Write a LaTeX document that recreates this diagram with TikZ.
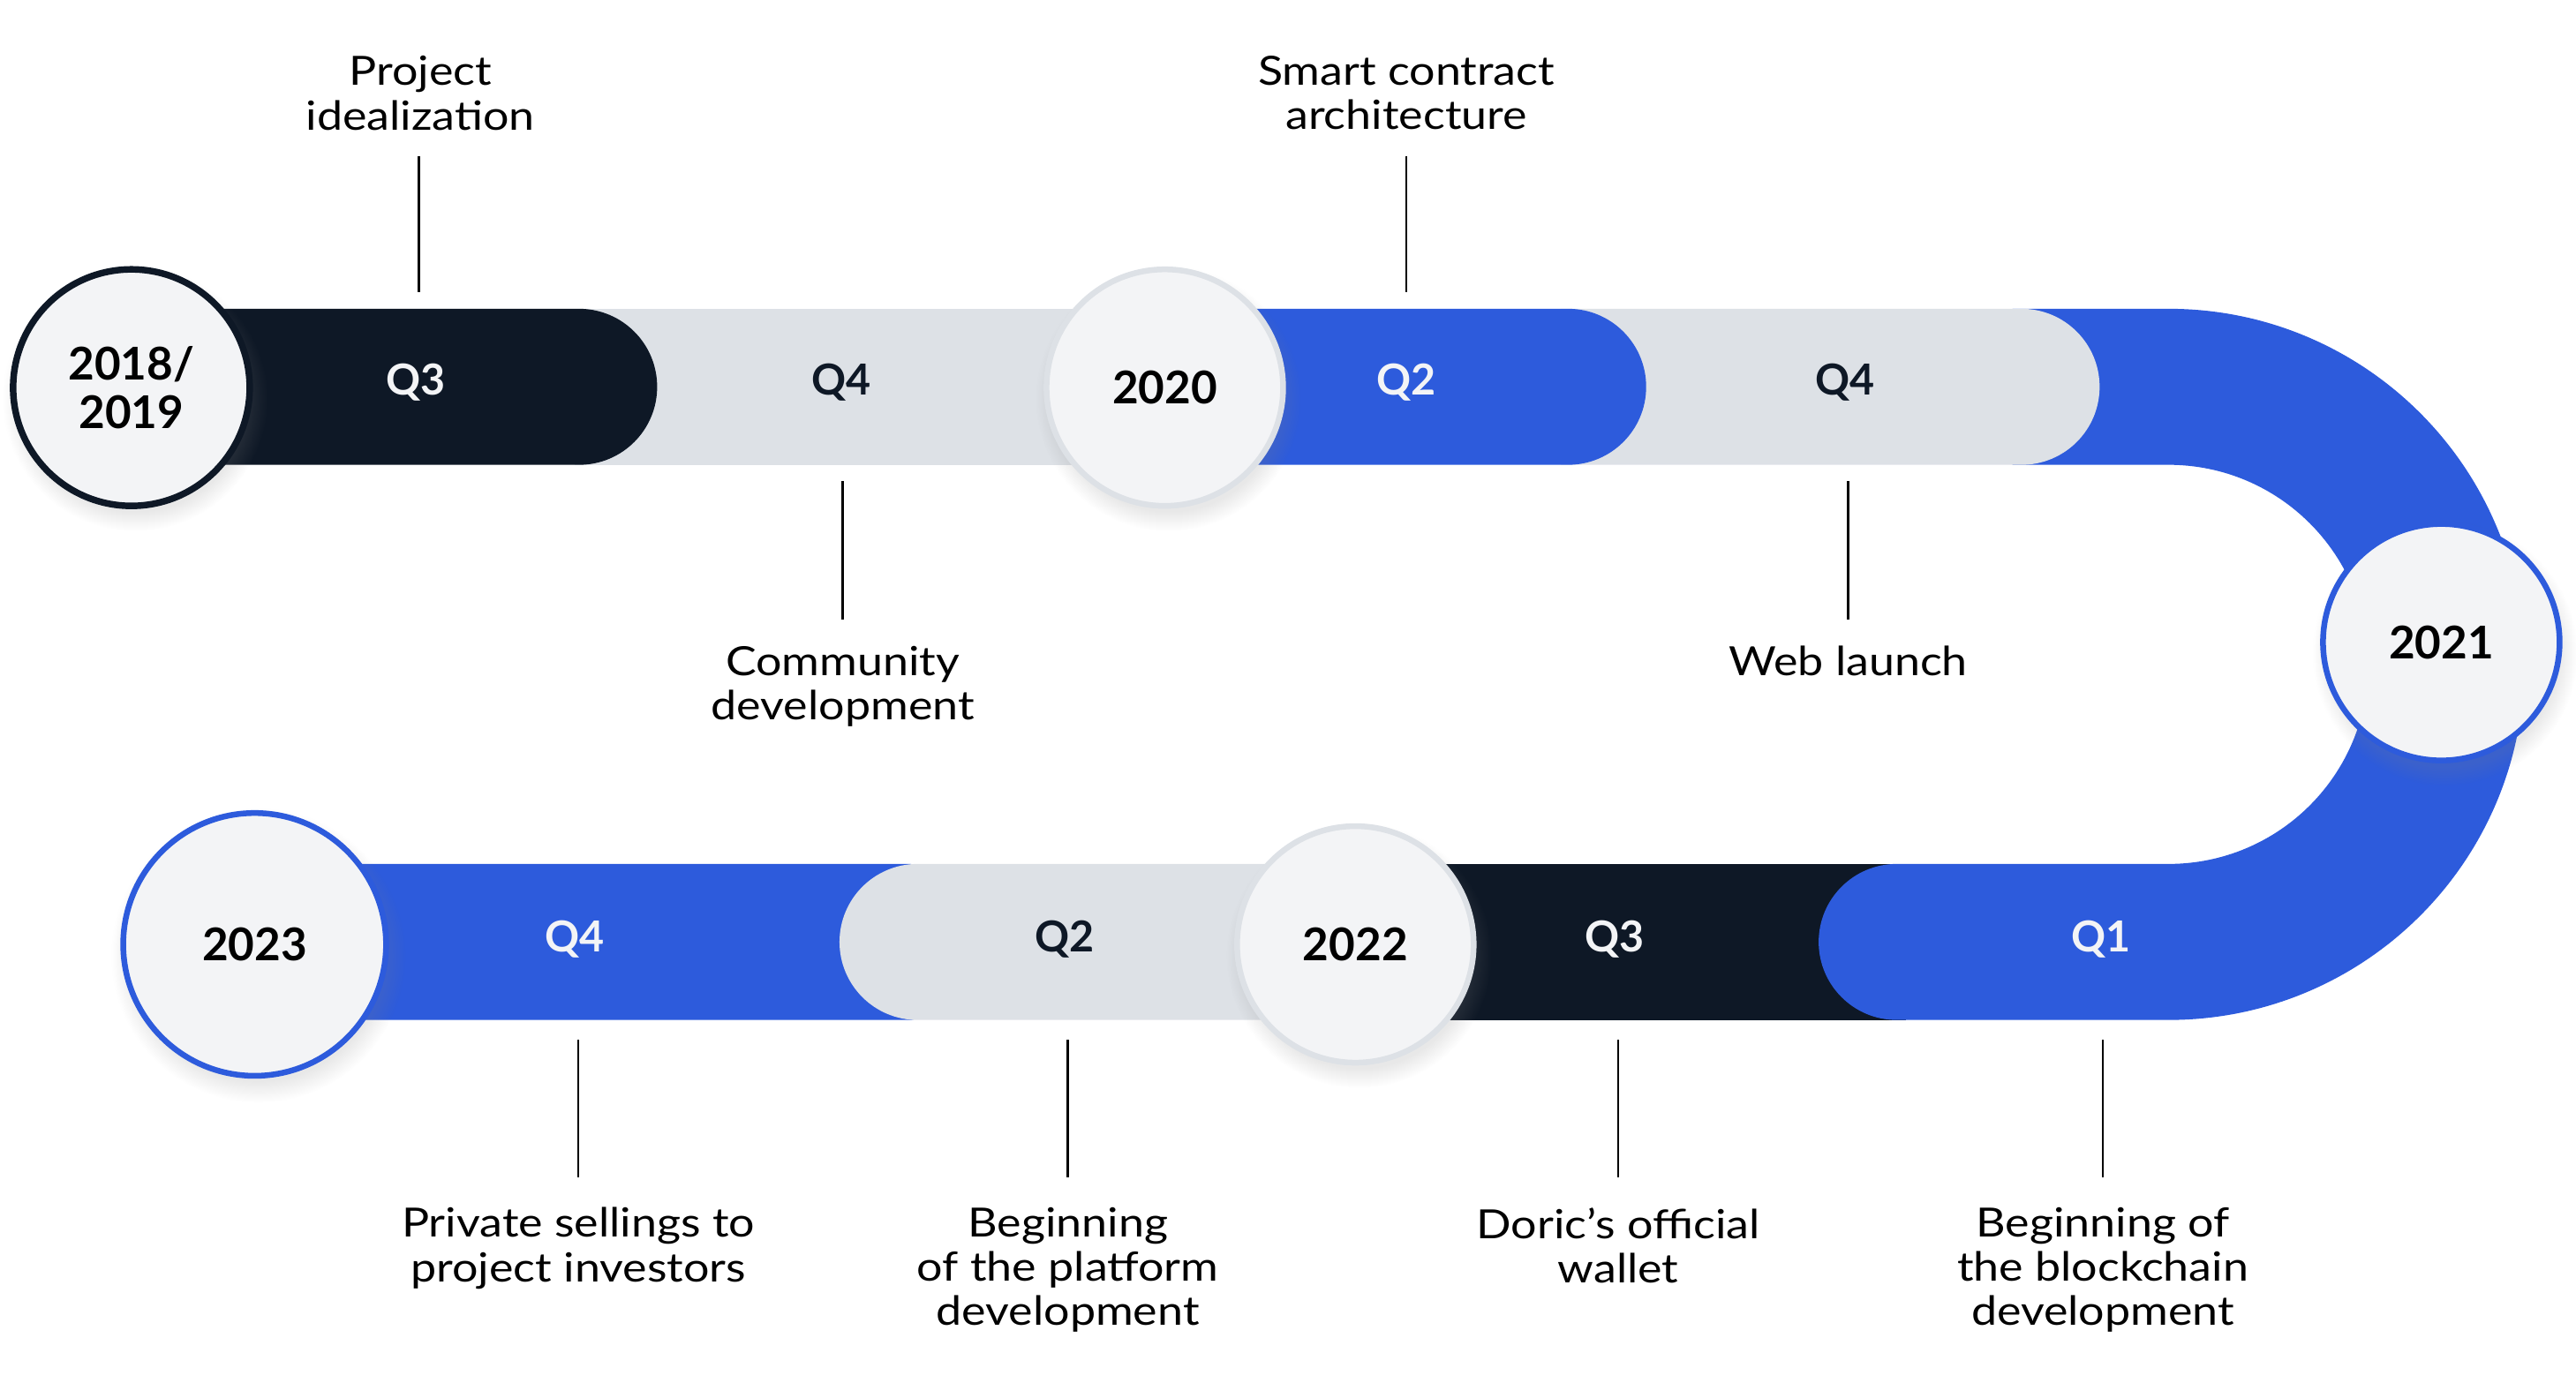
\documentclass[tikz,border=0pt]{standalone}
\usepackage{fontspec}
\setmainfont{Lato}
\newfontfamily\captionfont{Lato}[FakeStretch=1.14]
\usetikzlibrary{positioning, shadows}

\definecolor{brandblue}{HTML}{2D5BDC}
\definecolor{inkdark}{HTML}{0E1826}
\definecolor{trackgray}{HTML}{DDE1E6}
\definecolor{badgefill}{HTML}{F3F4F6}

\begin{document}
\begin{tikzpicture}[
    x=1pt, y=1pt,
    % Year badges sitting on the track
    yearbadge/.style={
        circle, fill=badgefill, minimum size=144pt, inner sep=0pt,
        line width=3.5pt, align=center, text=black,
        font=\fontsize{27.5}{30}\selectfont\bfseries,
        circular drop shadow={shadow xshift=2pt, shadow yshift=-6pt,
            shadow scale=1.12, opacity=0.18}
    },
    % Quarter labels on the track
    quarter/.style={font=\fontsize{26}{28}\selectfont\bfseries, text=badgefill},
    quarterdark/.style={quarter, text=inkdark},
    % Milestone captions and their ticks
    caption/.style={align=center, anchor=north, inner sep=0pt,
        font=\captionfont\fontsize{24.5}{27}\selectfont, text=black},
    tick/.style={line width=1.4pt, black},
]

\useasboundingbox (0,0) rectangle (1568,-851);

% ============================================================
% TRACK: drawn from the latest segment back to the earliest,
%   so each earlier rounded end lies on top of the next one
% ============================================================

% --- Bottom row (y = -573.5) ---
\fill[brandblue, rounded corners=8pt] (200,-526) rectangle (562,-621);
\fill[trackgray] (825,-526) -- (558.5,-526)
    arc[start angle=90, end angle=270, radius=47.5] -- (825,-621) -- cycle;
\fill[inkdark] (825,-526) rectangle (1160,-621);

% Q1 + U-turn + start of top blue run (one piece)
\fill[brandblue] (1225,-188) -- (1320,-188)
    arc[start angle=90, end angle=-90, radius=216.5] -- (1154.5,-621)
    arc[start angle=270, end angle=90, radius=47.5] -- (1320,-526)
    arc[start angle=-90, end angle=90, radius=121.5] -- (1225,-283) -- cycle;

% --- Top row (y = -235.5) ---
\fill[trackgray] (950,-188) -- (1230.5,-188)
    arc[start angle=90, end angle=-90, radius=47.5] -- (950,-283) -- cycle;
\fill[brandblue] (709,-188) -- (954.5,-188)
    arc[start angle=90, end angle=-90, radius=47.5] -- (709,-283) -- cycle;
\fill[trackgray] (350,-188) rectangle (709,-283);
\fill[inkdark] (120,-188) -- (352.5,-188)
    arc[start angle=90, end angle=-90, radius=47.5] -- (120,-283) -- cycle;

% ============================================================
% QUARTER LABELS
% ============================================================
\node[quarter]     (q3a) at (253,-233) {Q3};
\node[quarterdark] (q4a) at (512,-233) {Q4};
\node[quarter]     (q2b) at (856,-233) {Q2};
\node[quarterdark] (q4b) at (1123,-233) {Q4};
\node[quarter]     (q1c) at (1279,-572) {Q1};
\node[quarter]     (q3d) at (983,-572) {Q3};
\node[quarterdark] (q2d) at (648,-572) {Q2};
\node[quarter]     (q4e) at (350,-572) {Q4};

% ============================================================
% YEAR BADGES
% ============================================================
\node[yearbadge, draw=inkdark, line width=4pt] (y2018) at (80,-236) {2018/\\2019};
\node[yearbadge, draw=trackgray] (y2020) at (709,-236) {2020};
\node[yearbadge, draw=brandblue] (y2021) at (1486,-391) {2021};
\node[yearbadge, draw=trackgray] (y2022) at (825,-575) {2022};
\node[yearbadge, draw=brandblue, minimum size=160pt] (y2023) at (155,-575) {2023};

% ============================================================
% MILESTONE CAPTIONS + TICKS
% ============================================================

% above the top row
\node[caption] (idea) at (256,-34) {Project\\idealization};
\coordinate (idea-a) at (255,-95);  \coordinate (idea-b) at (255,-178);
\draw[tick] (idea-a) -- (idea-b);

\node[caption] (smart) at (856,-34) {Smart contract\\architecture};
\coordinate (smart-a) at (856,-95); \coordinate (smart-b) at (856,-178);
\draw[tick] (smart-a) -- (smart-b);

% below the top row
\coordinate (comm-a) at (513,-293); \coordinate (comm-b) at (513,-377);
\draw[tick] (comm-a) -- (comm-b);
\node[caption] (comm) at (513,-393) {Community\\development};

\coordinate (web-a) at (1125,-293); \coordinate (web-b) at (1125,-377);
\draw[tick] (web-a) -- (web-b);
\node[caption] (web) at (1125,-393) {Web launch};

% below the bottom row
\coordinate (priv-a) at (352,-633);  \coordinate (priv-b) at (352,-717);
\draw[tick] (priv-a) -- (priv-b);
\node[caption] (priv) at (352,-735) {Private sellings to\\project investors};

\coordinate (plat-a) at (650,-633);  \coordinate (plat-b) at (650,-717);
\draw[tick] (plat-a) -- (plat-b);
\node[caption] (plat) at (650,-735) {Beginning\\of the platform\\development};

\coordinate (wall-a) at (985,-633);  \coordinate (wall-b) at (985,-717);
\draw[tick] (wall-a) -- (wall-b);
\node[caption] (wall) at (985,-735) {Doric’s official\\wallet};

\coordinate (chain-a) at (1280,-633); \coordinate (chain-b) at (1280,-717);
\draw[tick] (chain-a) -- (chain-b);
\node[caption] (chain) at (1280,-735) {Beginning of\\the blockchain\\development};

\end{tikzpicture}
\end{document}
